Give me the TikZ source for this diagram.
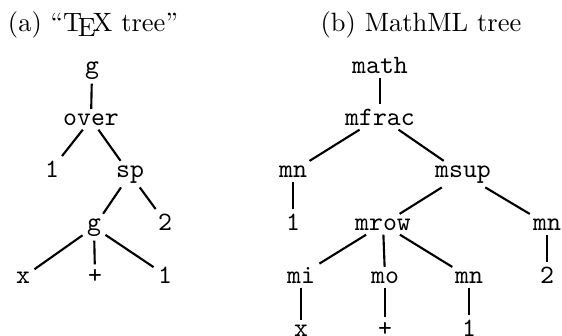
\documentclass[tikz,border=0pt]{standalone}
\begin{document}
\tikzset{
  tn/.style={font=\ttfamily, inner sep=1.5pt, anchor=base},
  ed/.style={line width=0.8pt},
  ttl/.style={inner sep=0pt, anchor=base}
}
\begin{tikzpicture}[x=0.3774pt,y=-0.3774pt]
\useasboundingbox (0,0) rectangle (562,335);
% titles
\node[ttl] (ta) at (93,31) {(a)\ ``\TeX\ tree''};
\node[ttl] (tb) at (421,31) {(b) MathML tree};
% left tree
\node[tn] (g1) at (92,73) {g};
\node[tn] (over) at (91,125) {over};
\node[tn] (l1) at (52,177) {1};
\node[tn] (sp) at (130,177) {sp};
\node[tn] (g2) at (94,230) {g};
\node[tn] (two) at (165,230) {2};
\node[tn] (lx) at (23,283) {x};
\node[tn] (lp) at (95,283) {+};
\node[tn] (lone) at (165,283) {1};
\draw[ed] (g1) -- (over);
\draw[ed] (over) -- (l1);
\draw[ed] (over) -- (sp);
\draw[ed] (sp) -- (g2);
\draw[ed] (sp) -- (two);
\draw[ed] (g2) -- (lx);
\draw[ed] (g2) -- (lp);
\draw[ed] (g2) -- (lone);
% right tree
\node[tn] (math) at (380,73) {math};
\node[tn] (mfrac) at (380,125) {mfrac};
\node[tn] (mnA) at (293,177) {mn};
\node[tn] (msup) at (463,177) {msup};
\node[tn] (rA) at (293,230) {1};
\node[tn] (mrow) at (383,230) {mrow};
\node[tn] (mnB) at (547,230) {mn};
\node[tn] (rB) at (547,283) {2};
\node[tn] (mi) at (301,283) {mi};
\node[tn] (mo) at (385,283) {mo};
\node[tn] (mnC) at (469,283) {mn};
\node[tn] (rx) at (301,336) {x};
\node[tn] (rp) at (385,336) {+};
\node[tn] (rC) at (469,336) {1};
\draw[ed] (math) -- (mfrac);
\draw[ed] (mfrac) -- (mnA);
\draw[ed] (mfrac) -- (msup);
\draw[ed] (mnA) -- (rA);
\draw[ed] (msup) -- (mrow);
\draw[ed] (msup) -- (mnB);
\draw[ed] (mnB) -- (rB);
\draw[ed] (mrow) -- (mi);
\draw[ed] (mrow) -- (mo);
\draw[ed] (mrow) -- (mnC);
\draw[ed] (mi) -- (rx);
\draw[ed] (mo) -- (rp);
\draw[ed] (mnC) -- (rC);
\end{tikzpicture}
\end{document}
